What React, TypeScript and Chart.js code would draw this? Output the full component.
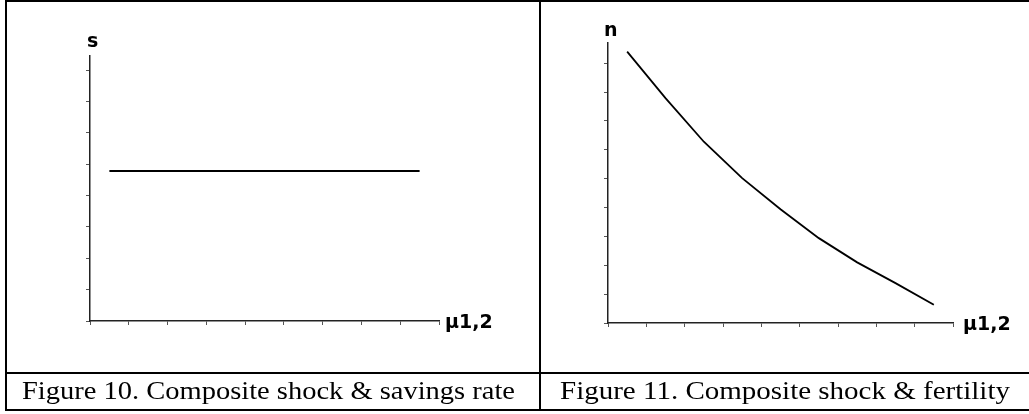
import React, { useEffect, useLayoutEffect, useRef } from "react";
import { Chart, registerables } from "chart.js";

Chart.register(...registerables);

// ---- data ----
const X_POSITIONS = [0.5, 1.5, 2.5, 3.5, 4.5, 5.5, 6.5, 7.5, 8.5];
const SAVINGS_RATE = [4.78, 4.78, 4.78, 4.78, 4.78, 4.78, 4.78, 4.78, 4.78];
const FERTILITY = [9.4, 7.79, 6.28, 5.02, 3.94, 2.94, 2.1, 1.38, 0.63];
const X_MIN = 0;
const X_MAX = 9;
const Y_MAX_SAVINGS = 8.45;
const Y_MAX_FERTILITY = 9.7;
const X_AXIS_LABEL = "μ1,2";
const Y_LABEL_SAVINGS = "s";
const Y_LABEL_FERTILITY = "n";
const CAPTION_SAVINGS = "Figure 10. Composite shock & savings rate";
const CAPTION_FERTILITY = "Figure 11. Composite shock & fertility";

const W = 1029;
const H = 414;

const axisLabelPlugin = {
  id: "axisLabels",
  afterDraw(chart: any, _args: any, opts: any) {
    const { ctx, chartArea } = chart;
    ctx.save();
    ctx.fillStyle = "#000";
    ctx.font = "bold 19px 'DejaVu Sans', Verdana, sans-serif";
    ctx.textBaseline = "alphabetic";
    ctx.textAlign = "left";
    ctx.fillText(opts.yLabel, chartArea.left + opts.yDx, chartArea.top + opts.yDy);
    ctx.fillText(opts.xLabel, chartArea.right + opts.xDx, chartArea.bottom + opts.xDy);
    ctx.restore();
  },
};

function makeConfig(values: number[], yMax: number, padding: any, labelOpts: any, lineWidth: number) {
  const intOnly = (scale: any) => {
    scale.ticks = scale.ticks.filter((t: any) => Number.isInteger(Math.round(t.value * 1e6) / 1e6));
  };
  return {
    type: "line",
    data: {
      datasets: [
        {
          data: X_POSITIONS.map((x, i) => ({ x, y: values[i] })),
          borderColor: "#000",
          borderWidth: lineWidth,
          pointRadius: 0,
          tension: 0,
          fill: false,
        },
      ],
    },
    options: {
      animation: false,
      responsive: false,
      maintainAspectRatio: false,
      events: [],
      layout: { padding },
      plugins: {
        legend: { display: false },
        tooltip: { enabled: false },
        title: { display: false },
        axisLabels: labelOpts,
      },
      scales: {
        x: {
          type: "linear",
          min: X_MIN,
          max: X_MAX,
          afterBuildTicks: intOnly,
          ticks: { display: false, stepSize: 1 },
          grid: { drawOnChartArea: false, drawTicks: true, tickLength: 4, color: "#555", lineWidth: 1 },
          border: { display: true, color: "#222", width: 1.5 },
        },
        y: {
          type: "linear",
          min: 0,
          max: yMax,
          afterBuildTicks: intOnly,
          ticks: { display: false, stepSize: 1 },
          grid: { drawOnChartArea: false, drawTicks: true, tickLength: 4, color: "#555", lineWidth: 1 },
          border: { display: true, color: "#222", width: 1.5 },
        },
      },
    },
    plugins: [axisLabelPlugin],
  };
}

function ChartCanvas({ config }: { config: any }) {
  const ref = useRef<HTMLCanvasElement | null>(null);
  useEffect(() => {
    if (!ref.current) return;
    const chart = new Chart(ref.current, config);
    return () => chart.destroy();
  }, [config]);
  return (
    <canvas
      ref={ref}
      width={W}
      height={H}
      style={{ position: "absolute", left: 0, top: 0, width: W, height: H }}
    />
  );
}

function Caption({ text, left, width, top }: { text: string; left: number; width: number; top: number }) {
  const ref = useRef<HTMLSpanElement | null>(null);
  useLayoutEffect(() => {
    const el = ref.current;
    if (!el) return;
    el.style.transform = "none";
    const w = el.getBoundingClientRect().width;
    if (w > 0) el.style.transform = `scaleX(${width / w})`;
  }, [text, width]);
  return (
    <span
      ref={ref}
      style={{
        position: "absolute",
        left,
        top,
        whiteSpace: "nowrap",
        fontFamily: "'Liberation Serif', 'Times New Roman', serif",
        fontSize: 25,
        color: "#000",
        transformOrigin: "0 0",
        display: "inline-block",
        lineHeight: "normal",
      }}
    >
      {text}
    </span>
  );
}

const leftConfig = makeConfig(
  SAVINGS_RATE,
  Y_MAX_SAVINGS,
  { left: 86, right: W - 439, top: 56, bottom: H - 321 - 4 },
  { yLabel: Y_LABEL_SAVINGS, xLabel: X_AXIS_LABEL, yDx: -3, yDy: -9.5, xDx: 6, xDy: 6.5 },
  2
);
const rightConfig = makeConfig(
  FERTILITY,
  Y_MAX_FERTILITY,
  { left: 604, right: W - 953, top: 43, bottom: H - 323 - 4 },
  { yLabel: Y_LABEL_FERTILITY, xLabel: X_AXIS_LABEL, yDx: -4, yDy: -7.5, xDx: 10, xDy: 6.5 },
  1.8
);

const line = (style: React.CSSProperties) => (
  <div style={{ position: "absolute", background: "#000", ...style }} />
);

export default function App() {
  return (
    <div
      style={{
        position: "absolute",
        left: 0,
        top: 0,
        width: W,
        height: H,
        background: "#fff",
        overflow: "hidden",
      }}
    >
      <ChartCanvas config={leftConfig} />
      <ChartCanvas config={rightConfig} />
      {line({ left: 5, top: 0, width: W - 5, height: 1.5 })}
      {line({ left: 5, top: 0, width: 2, height: 411 })}
      {line({ left: 539, top: 0, width: 2, height: 411 })}
      {line({ left: 5, top: 372, width: W - 5, height: 1.5 })}
      {line({ left: 5, top: 409, width: W - 5, height: 2 })}
      <Caption text={CAPTION_SAVINGS} left={22} width={493} top={377} />
      <Caption text={CAPTION_FERTILITY} left={560} width={450} top={377} />
    </div>
  );
}
